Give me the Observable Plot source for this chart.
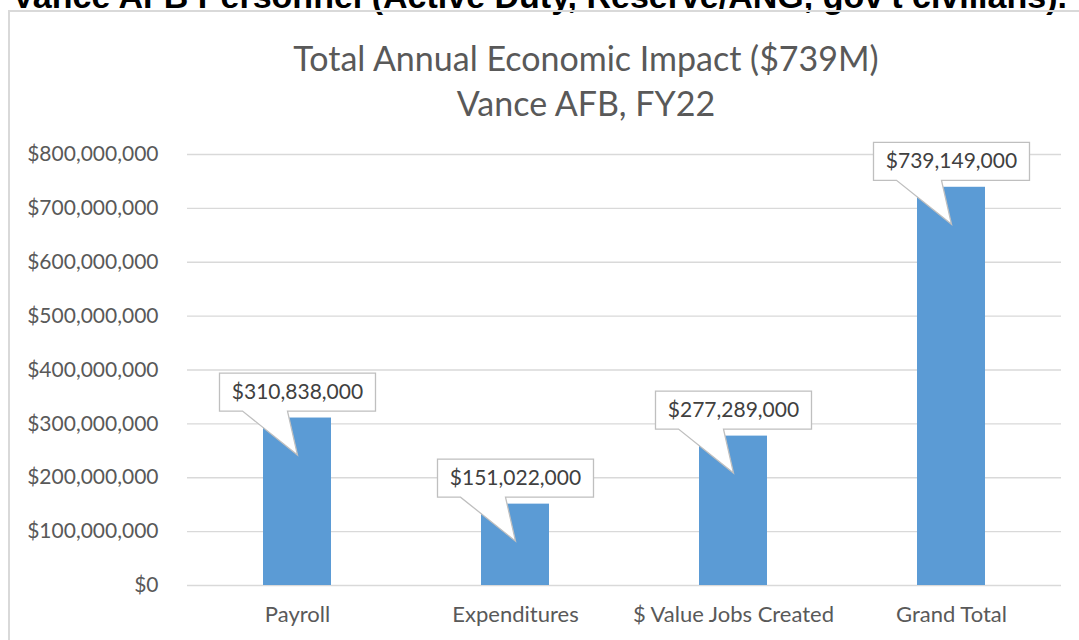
<!DOCTYPE html>
<html>
<head>
<meta charset="utf-8">
<script src="https://cdn.jsdelivr.net/npm/d3@7"></script>
<script src="https://cdn.jsdelivr.net/npm/@observablehq/plot@0.6"></script>
<style>
  html, body { margin: 0; padding: 0; background: #fff; overflow: hidden; }
  body { width: 1079px; height: 640px; position: relative; font-family: Lato, "Open Sans", sans-serif; }
  #heading { position: absolute; left: 0; width: 1079px; top: -21px; text-align: center; white-space: nowrap;
    font-family: "Liberation Sans", Arial, sans-serif; font-weight: bold; font-size: 34px; line-height: 34px; color: #000; }
  #frame { position: absolute; left: 8px; top: 10px; width: 1200px; height: 700px; border: 2px solid #d9d9d9; box-sizing: border-box; }
  .title { position: absolute; left: 0; width: 1172px; text-align: center; color: #595959; font-size: 34px; line-height: 40px; white-space: nowrap; }
  #chart { position: absolute; left: 0; top: 130px; }
</style>
</head>
<body>
<div id="heading">Vance AFB Personnel (Active Duty, Reserve/ANG, gov't civilians).</div>
<div id="frame"></div>
<div class="title" style="top:38px">Total Annual Economic Impact ($739M)</div>
<div class="title" style="top:83px">Vance AFB, FY22</div>
<div id="chart"></div>
<script>
const categories = ["Payroll", "Expenditures", "$ Value Jobs Created", "Grand Total"];
const values = [310838000, 151022000, 277289000, 739149000];
const yTicks = [0, 100000000, 200000000, 300000000, 400000000, 500000000, 600000000, 700000000, 800000000];

const data = categories.map((c, i) => ({category: c, value: values[i]}));
const money = d => "$" + d3.format(",")(d);

// callout shape drawn around the dot anchor (the bar top)
const callout = {
  draw(ctx) {
    const w = 78, top = -45, bot = -7;
    ctx.moveTo(-w, top);
    ctx.lineTo(w, top);
    ctx.lineTo(w, bot);
    ctx.lineTo(-10, bot);
    ctx.lineTo(0, 37);
    ctx.lineTo(-55, bot);
    ctx.lineTo(-w, bot);
    ctx.closePath();
  }
};

const chart = Plot.plot({
  width: 1079,
  height: 510,
  marginTop: 24,
  marginBottom: 55,
  marginLeft: 187,
  marginRight: 18,
  style: {fontFamily: "Lato, 'Open Sans', sans-serif", fontSize: "21px", color: "#595959", background: "transparent"},
  x: {domain: categories, paddingInner: 0.69, paddingOuter: 0.345, label: null},
  y: {domain: [0, 800000000], label: null},
  marks: [
    Plot.ruleY(yTicks, {stroke: "#d9d9d9", strokeWidth: 1.3}),
    Plot.barY(data, {x: "category", y: "value", fill: "#5b9bd5"}),
    Plot.dot(data, {x: "category", y: "value", symbol: callout, fill: "white", stroke: "#bfbfbf", strokeWidth: 1.3}),
    Plot.text(data, {x: "category", y: "value", text: d => money(d.value), dy: -26, fill: "#404040", fontSize: 21}),
    Plot.axisY({ticks: yTicks, tickFormat: money, tickSize: 0, tickPadding: 29, fontSize: 21}),
    Plot.axisX({tickSize: 0, tickPadding: 21, fontSize: 22})
  ]
});
document.getElementById("chart").appendChild(chart);
</script>
</body>
</html>
